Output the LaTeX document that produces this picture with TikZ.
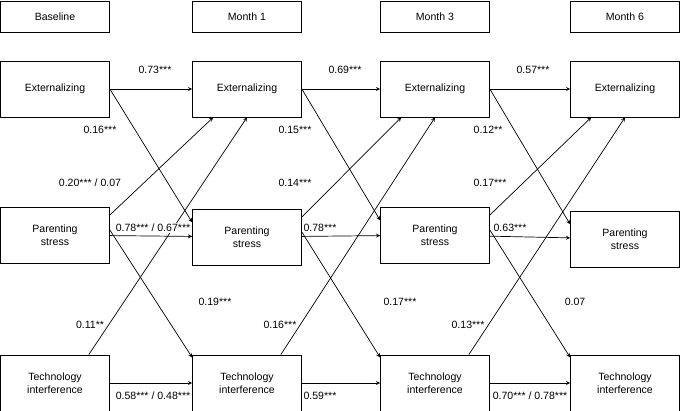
\documentclass[tikz,border=0pt]{standalone}
\usepackage{fontspec}
\setmainfont{Liberation Sans}
\usetikzlibrary{positioning, arrows}
\tikzstyle{arrow} = [->,>=stealth, line width=0.6pt]

\begin{document}
\begin{tikzpicture}[x=0.03cm, y=-0.03cm]
                \tikzstyle{every node}=[font=\fontsize{9}{11}\selectfont]
                \tikzstyle{box} = [draw=black, line width=0.6pt, minimum width=3.27cm, minimum height=1.68cm, align=center]
                \tikzstyle{head} = [draw=black, line width=0.6pt, minimum width=3.27cm, minimum height=0.95cm]
                \tikzstyle{coef} = [fill=white, inner sep=1pt]
                \useasboundingbox (0,0) rectangle (685,410);

                % headers
                \node[head](t1) at (55,17) {Baseline};
                \node[head](t2) at (247,17) {Month 1};
                \node[head](t3) at (435,17) {Month 3};
                \node[head](t4) at (625,17) {Month 6};

                % boxes
                \node[box](e1) at (55,89) {Externalizing};
                \node[box](e2) at (247,89) {Externalizing};
                \node[box](e3) at (435,89) {Externalizing};
                \node[box](e4) at (625,89) {Externalizing};
                \node[box](p1) at (55,235) {Parenting\\stress};
                \node[box](p2) at (247,237) {Parenting\\stress};
                \node[box](p3) at (435,235) {Parenting\\stress};
                \node[box](p4) at (625,239) {Parenting\\stress};
                \node[box](i1) at (55,383) {Technology\\interference};
                \node[box](i2) at (247,383) {Technology\\interference};
                \node[box](i3) at (435,383) {Technology\\interference};
                \node[box](i4) at (625,383) {Technology\\interference};

                % cross-lagged paths
                \draw[arrow] (e1.east) -- (p2.165);
                \draw[arrow] (e2.east) -- (p3.165);
                \draw[arrow] (e3.east) -- (p4.165);
                \draw[arrow] (p1.east) ++(0,-20) -- (e2.-140);
                \draw[arrow] (p2.east) ++(0,-20) -- (e3.-140);
                \draw[arrow] (p3.east) ++(0,-20) -- (e4.-140);
                \draw[arrow] (p1.east) ++(0,-5) -- (i2.155);
                \draw[arrow] (p2.east) ++(0,-5) -- (i3.155);
                \draw[arrow] (p3.east) ++(0,-5) -- (i4.155);
                \draw[arrow] (i1.40) -- (e2.-90);
                \draw[arrow] (i2.40) -- (e3.-90);
                \draw[arrow] (i3.40) -- (e4.-90);

                % stability paths
                \draw[arrow] (e1) -- (e2);
                \draw[arrow] (e2) -- (e3);
                \draw[arrow] (e3) -- (e4);
                \draw[arrow] (p1) -- (p2);
                \draw[arrow] (p2) -- (p3);
                \draw[arrow] (p3) -- (p4);
                \draw[arrow] (i1) -- (i2);
                \draw[arrow] (i2) -- (i3);
                \draw[arrow] (i3) -- (i4);

                % coefficients
                \node(c1) at (155,70) {0.73***};
                \node(c2) at (100,130) {0.16***};
                \node(c3) at (90,183) {0.20*** / 0.07};
                \node[coef](c4) at (153,228) {0.78*** / 0.67***};
                \node(c5) at (215,302) {0.19***};
                \node(c6) at (90,325) {0.11**};
                \node[coef](c7) at (153,396) {0.58*** / 0.48***};
                \node(d1) at (345,70) {0.69***};
                \node(d2) at (295,130) {0.15***};
                \node(d3) at (295,183) {0.14***};
                \node(d4) at (320,228) {0.78***};
                \node(d5) at (400,302) {0.17***};
                \node(d6) at (280,325) {0.16***};
                \node(d7) at (320,396) {0.59***};
                \node(f1) at (533,70) {0.57***};
                \node(f2) at (488,130) {0.12**};
                \node(f3) at (490,183) {0.17***};
                \node(f4) at (510,228) {0.63***};
                \node(f5) at (575,302) {0.07};
                \node(f6) at (468,325) {0.13***};
                \node[coef](f7) at (530,396) {0.70*** / 0.78***};
\end{tikzpicture}
\end{document}
